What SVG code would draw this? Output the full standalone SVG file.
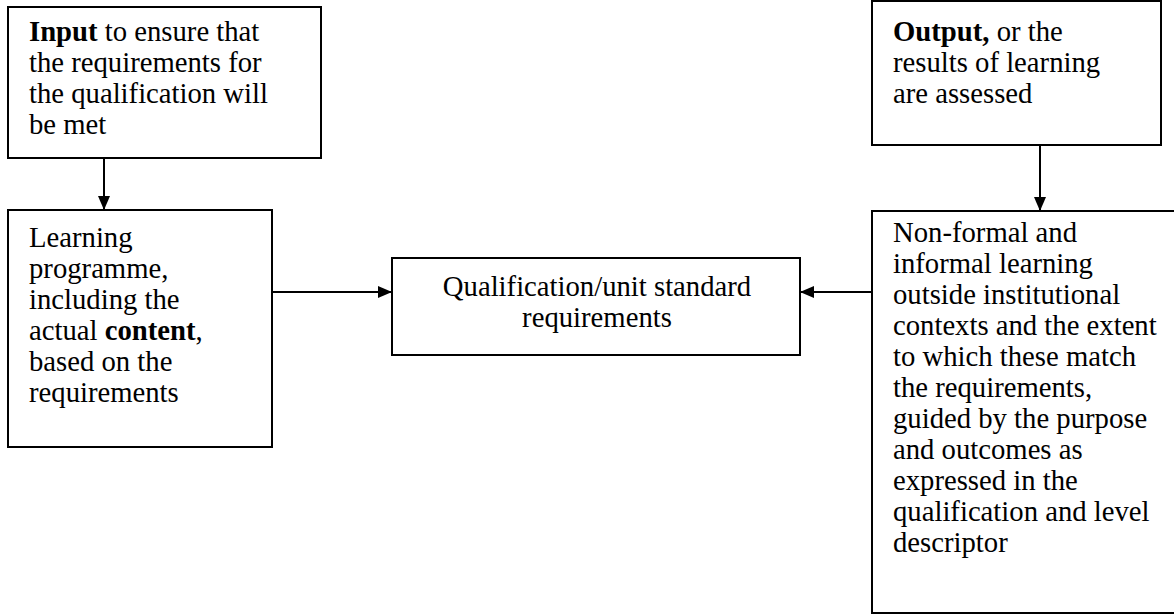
<svg xmlns="http://www.w3.org/2000/svg" width="1174" height="615" viewBox="0 0 1174 615">
<style>
.box{fill:#fff;stroke:#000;stroke-width:2}
.t{font-family:"Liberation Serif","Times New Roman",serif;font-size:28.7px;fill:#000}
.b{font-weight:bold}
.c{stroke:#000;stroke-width:2;fill:none}
</style>
<defs>
<marker id="ah" viewBox="0 0 14 12" refX="14" refY="6" markerWidth="14" markerHeight="12" markerUnits="userSpaceOnUse" orient="auto">
<path d="M0,0 L14,6 L0,12 Z" fill="#000"/>
</marker>
</defs>
<rect width="1174" height="615" fill="#fff"/>
<g id="connectors">
<line class="c" x1="104" y1="158" x2="104" y2="210" marker-end="url(#ah)"/>
<line class="c" x1="1040" y1="146" x2="1040" y2="211" marker-end="url(#ah)"/>
<line class="c" x1="272" y1="292" x2="392" y2="292" marker-end="url(#ah)"/>
<line class="c" x1="872" y1="292" x2="800" y2="292" marker-end="url(#ah)"/>
</g>
<g id="input">
<rect class="box" x="8" y="7" width="313" height="151"/>
<text class="t"><tspan x="29" y="41"><tspan class="b">Input</tspan> to ensure that</tspan><tspan x="29" y="72">the requirements for</tspan><tspan x="29" y="103">the qualification will</tspan><tspan x="29" y="134">be met</tspan></text>
</g>
<g id="output">
<rect class="box" x="872" y="1" width="289" height="144"/>
<text class="t"><tspan x="893" y="41"><tspan class="b">Output,</tspan> or the</tspan><tspan x="893" y="72">results of learning</tspan><tspan x="893" y="103">are assessed</tspan></text>
</g>
<g id="learning">
<rect class="box" x="8" y="210" width="264" height="237"/>
<text class="t"><tspan x="29" y="247">Learning</tspan><tspan x="29" y="278">programme,</tspan><tspan x="29" y="309">including the</tspan><tspan x="29" y="340">actual <tspan class="b">content</tspan>,</tspan><tspan x="29" y="371">based on the</tspan><tspan x="29" y="402">requirements</tspan></text>
</g>
<g id="qualification">
<rect class="box" x="392" y="258" width="408" height="97"/>
<text class="t" text-anchor="middle"><tspan x="597" y="296">Qualification/unit standard</tspan><tspan x="597" y="327">requirements</tspan></text>
</g>
<g id="nonformal">
<rect class="box" x="872" y="211" width="320" height="402"/>
<text class="t"><tspan x="893" y="242">Non-formal and</tspan><tspan x="893" y="273">informal learning</tspan><tspan x="893" y="304">outside institutional</tspan><tspan x="893" y="335">contexts and the extent</tspan><tspan x="893" y="366">to which these match</tspan><tspan x="893" y="397">the requirements,</tspan><tspan x="893" y="428">guided by the purpose</tspan><tspan x="893" y="459">and outcomes as</tspan><tspan x="893" y="490">expressed in the</tspan><tspan x="893" y="521">qualification and level</tspan><tspan x="893" y="552">descriptor</tspan></text>
</g>
</svg>
